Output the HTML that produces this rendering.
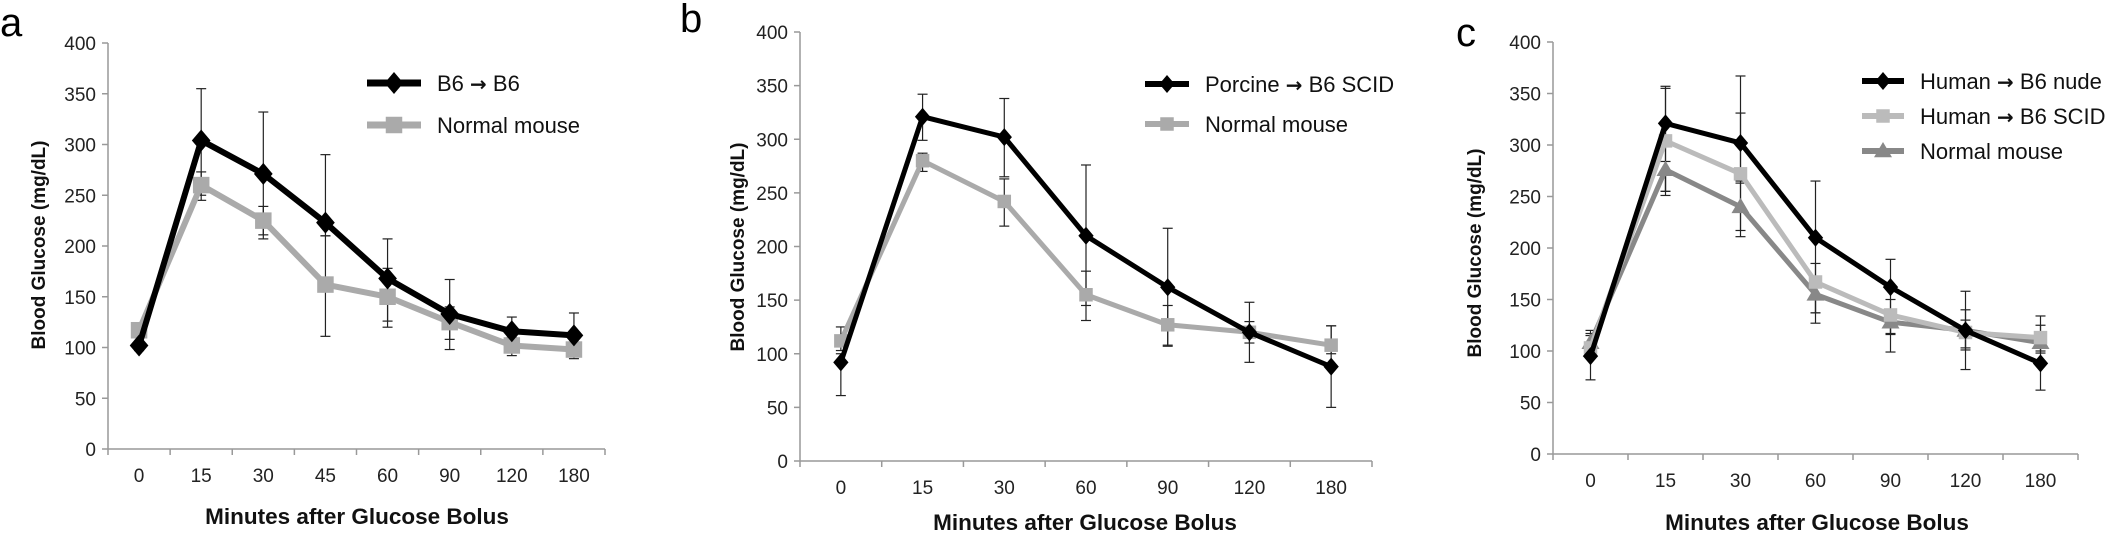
<!DOCTYPE html>
<html><head><meta charset="utf-8"><style>
html,body{margin:0;padding:0;background:#fff;}
svg{display:block;font-family:"Liberation Sans",sans-serif;}
</style></head><body>
<svg id="s" width="2120" height="541" viewBox="0 0 2120 541" xmlns="http://www.w3.org/2000/svg"></svg>
<script>
const S=document.getElementById('s');let h='';
const AR='<tspan font-family="DejaVu Sans" font-weight="bold" font-size="20">→</tspan>';
function panel(p){
  const {ax,x1,y400,y0,cats,series,legend,letter,ytx,yty,xtx,xty,lw,ms}=p;
  const Y=v=>y0-(y0-y400)*v/400;
  h+=`<line x1="${ax}" y1="${y400}" x2="${ax}" y2="${y0}" stroke="#999" stroke-width="1.5"/>`;
  h+=`<line x1="${ax}" y1="${y0}" x2="${x1}" y2="${y0}" stroke="#999" stroke-width="1.5"/>`;
  for(let v=0;v<=400;v+=50){const y=Y(v);
    h+=`<line x1="${ax-6}" y1="${y}" x2="${ax}" y2="${y}" stroke="#999" stroke-width="1.5"/>`;
    h+=`<text x="${ax-12}" y="${y+7}" font-size="19" text-anchor="end" fill="#222">${v}</text>`;}
  const n=cats.length,sp=(x1-ax)/n;
  for(let i=0;i<=n;i++){const x=ax+i*sp;h+=`<line x1="${x}" y1="${y0}" x2="${x}" y2="${y0+6}" stroke="#999" stroke-width="1.5"/>`;}
  cats.forEach((c,i)=>{h+=`<text x="${ax+sp*(i+.5)}" y="${y0+33}" font-size="19" text-anchor="middle" fill="#222">${c}</text>`;});
  const X=i=>ax+sp*(i+.5);
  series.forEach(s=>{s.v.forEach((v,i)=>{const e=s.e[i];if(!e)return;const x=X(i);
    h+=`<line x1="${x}" y1="${Y(e[0])}" x2="${x}" y2="${Y(e[1])}" stroke="#222" stroke-width="1.2"/>`;
    [e[0],e[1]].forEach(q=>{h+=`<line x1="${x-5}" y1="${Y(q)}" x2="${x+5}" y2="${Y(q)}" stroke="#222" stroke-width="1.2"/>`;});});});
  function mk(t,x,y,c,m){if(t=='d')return `<polygon points="${x},${y-m} ${x+m*.85},${y} ${x},${y+m} ${x-m*.85},${y}" fill="${c}"/>`;
    if(t=='s')return `<rect x="${x-m*.75}" y="${y-m*.75}" width="${m*1.5}" height="${m*1.5}" fill="${c}"/>`;
    return `<polygon points="${x},${y-m} ${x+m},${y+m*.7} ${x-m},${y+m*.7}" fill="${c}"/>`;}
  [...series].reverse().forEach(s=>{
    h+=`<polyline points="${s.v.map((v,i)=>X(i)+','+Y(v)).join(' ')}" fill="none" stroke="${s.c}" stroke-width="${lw}" stroke-linejoin="round"/>`;
    s.v.forEach((v,i)=>{h+=mk(s.m,X(i),Y(v),s.c,ms);});});
  series.forEach((s,k)=>{const y=legend.y[k];
    h+=`<line x1="${legend.x0}" y1="${y}" x2="${legend.x1}" y2="${y}" stroke="${s.c}" stroke-width="${lw+1}"/>`;
    h+=mk(s.m,(legend.x0+legend.x1)/2,y,s.c,ms);
    h+=`<text x="${legend.tx}" y="${y+8}" font-size="22" fill="#111">${s.n}</text>`;});
  h+=`<text x="${letter[0]}" y="${letter[1]}" font-size="40" fill="#000">${letter[2]}</text>`;
  h+=`<text transform="translate(${ytx},${yty}) rotate(-90)" font-size="19" font-weight="bold" text-anchor="middle" fill="#111">Blood Glucose (mg/dL)</text>`;
  h+=`<text x="${xtx}" y="${xty}" font-size="22.5" font-weight="bold" text-anchor="middle" fill="#111">Minutes after Glucose Bolus</text>`;
}
panel({ax:108,x1:605,y400:43,y0:449,cats:[0,15,30,45,60,90,120,180],lw:6,ms:11,
 series:[{n:`B6 ${AR} B6`,c:"#000",m:'d',v:[102,304,271,223,168,133,116,112],
   e:[[106,97],[355,250],[332,211],[290,210],[207,120],[167,108],[130,100],[134,92]]},
  {n:"Normal mouse",c:"#aaa",m:'s',v:[117,260,225,162,150,125,102,98],
   e:[null,[273,245],[239,207],[210,111],[178,126],[140,98],[110,92],[105,89]]}],
 legend:{x0:367,x1:421,y:[83,125],tx:437},letter:[0,36,"a"],ytx:45,yty:245,xtx:357,xty:524});
panel({ax:800,x1:1372,y400:32,y0:461,cats:[0,15,30,60,90,120,180],lw:5,ms:9,
 series:[{n:`Porcine ${AR} B6 SCID`,c:"#000",m:'d',v:[92,321,302,210,162,120,88],
   e:[[100,61],[342,299],[338,265],[276,131],[217,107],[148,92],[126,50]]},
  {n:"Normal mouse",c:"#aaa",m:'s',v:[112,280,242,155,127,120,108],
   e:[[125,103],[287,270],[263,219],[177,145],[145,108],[130,110],[126,100]]}],
 legend:{x0:1145,x1:1189,y:[84,124],tx:1205},letter:[680,32,"b"],ytx:744,yty:247,xtx:1085,xty:530});
panel({ax:1553,x1:2078,y400:42,y0:454,cats:[0,15,30,60,90,120,180],lw:5,ms:9,
 series:[{n:`Human ${AR} B6 nude`,c:"#000",m:'d',v:[95,321,302,210,162,120,88],
   e:[[117,72],[357,255],[367,265],[265,127],[189,117],[158,82],[134,62]]},
  {n:`Human ${AR} B6 SCID`,c:"#bbb",m:'s',v:[103,304,272,167,135,118,113],
   e:[[115,95],[355,255],[331,217],[185,137],[150,99],[140,101],[125,100]]},
  {n:"Normal mouse",c:"#888",m:'t',v:[108,276,240,155,128,120,108],
   e:[[120,100],[284,251],[263,211],[170,137],[140,116],[130,103],[118,98]]}],
 legend:{x0:1862,x1:1904,y:[81,116,151],tx:1920},letter:[1456,46,"c"],ytx:1481,yty:253,xtx:1817,xty:530});
S.innerHTML=h;
</script>
</body></html>
